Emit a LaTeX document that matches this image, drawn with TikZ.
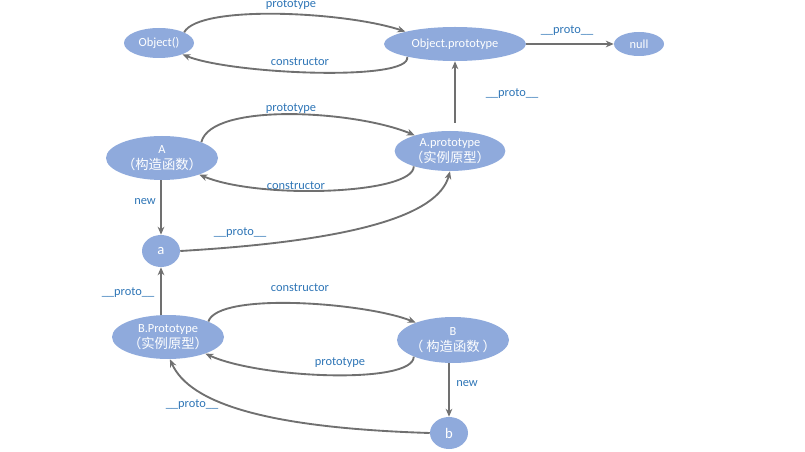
\documentclass[tikz,border=0pt]{standalone}
\usepackage{fontspec}
\setmainfont{Carlito}
\newfontfamily\cjk{Noto Sans CJK SC}
\usetikzlibrary{shapes.geometric,arrows.meta}
\definecolor{nodefill}{HTML}{8FAADC}
\definecolor{lbl}{HTML}{2E75B6}
\definecolor{edgegray}{HTML}{707070}
\begin{document}
\begin{tikzpicture}[x=0.75pt,y=-0.75pt,
  ell/.style={ellipse, fill=nodefill, text=white, inner sep=-4pt, align=center,
              font=\fontsize{9.3}{12}\selectfont},
  lab/.style={text=lbl, inner sep=0pt, font=\fontsize{9.3}{11}\selectfont},
  arr/.style={draw=edgegray, line width=1.4pt, -{Stealth[length=6pt,width=5pt]}}]
\useasboundingbox (0,0) rectangle (805,452);

% nodes
\node[ell, minimum width=52.5pt, minimum height=22.5pt] (obj) at (159,43) {Object()};
\node[ell, minimum width=106.5pt, minimum height=25.5pt] (op) at (455,44) {Object.prototype};
\node[ell, minimum width=37.5pt, minimum height=18pt] (nul) at (639,44) {null};
\node[ell, minimum width=84pt, minimum height=33pt] (A) at (162,158) {A\\{\cjk\fontsize{10}{12}\selectfont （构造函数）}};
\node[ell, minimum width=83pt, minimum height=30pt] (ap) at (450,151) {A.prototype\\{\cjk\fontsize{10}{12}\selectfont （实例原型）}};
\node[ell, minimum width=28.5pt, minimum height=24pt, font=\fontsize{11}{12}\selectfont] (a) at (161,251) {a};
\node[ell, minimum width=84pt, minimum height=33pt] (bp) at (168,337) {B.Prototype\\{\cjk\fontsize{10}{12}\selectfont （实例原型）}};
\node[ell, minimum width=84pt, minimum height=34.5pt] (B) at (453,340) {B\\{\cjk\fontsize{10}{12}\selectfont （ 构造函数 ）}};
\node[ell, minimum width=28.5pt, minimum height=24pt, font=\fontsize{11}{12}\selectfont] (b) at (449,433) {b};

% connectors
\draw[arr] (obj.23) .. controls +(15,-28) and +(-60,-20) .. (op.166);
\draw[arr] (op.195) .. controls +(5,25) and +(50,20) .. (obj.-26);
\draw[arr] (op.east) -- (nul.west);
\draw[arr, shorten <=6pt] (ap.north -| op.south) -- (op.south);
\draw[arr] (A.22) .. controls +(10,-40) and +(-60,-25) .. (ap.156);
\draw[arr] (ap.203) .. controls +(0,28) and +(60,25) .. (A.-24);
\draw[arr] (A.south -| a.north) -- (a.north);
\draw[arr] (a.east) .. controls +(170,-10) and +(-12,45) .. (ap.-90);
\draw[arr] (bp.north -| a.south) -- (a.south);
\draw[arr] (bp.21) .. controls +(10,-30) and +(-50,-20) .. (B.155);
\draw[arr] (B.203) .. controls +(0,28) and +(55,25) .. (bp.-24);
\draw[arr] (B.south -| b.north) -- (b.north);
\draw[arr] (b.west) .. controls +(-160,-5) and +(20,45) .. (bp.-85);

% labels
\node[lab] (l1) at (291,5) {prototype};
\node[lab] (l2) at (300,62) {constructor};
\node[lab] (l3) at (567,31) {\_\_proto\_\_};
\node[lab] (l4) at (512,94) {\_\_proto\_\_};
\node[lab] (l5) at (291,109) {prototype};
\node[lab] (l6) at (296,186) {constructor};
\node[lab] (l7) at (145,202) {new};
\node[lab] (l8) at (240,233) {\_\_proto\_\_};
\node[lab] (l9) at (128,293) {\_\_proto\_\_};
\node[lab] (l10) at (300,288) {constructor};
\node[lab] (l11) at (340,363) {prototype};
\node[lab] (l12) at (467,384) {new};
\node[lab] (l13) at (192,405) {\_\_proto\_\_};
\end{tikzpicture}
\end{document}
